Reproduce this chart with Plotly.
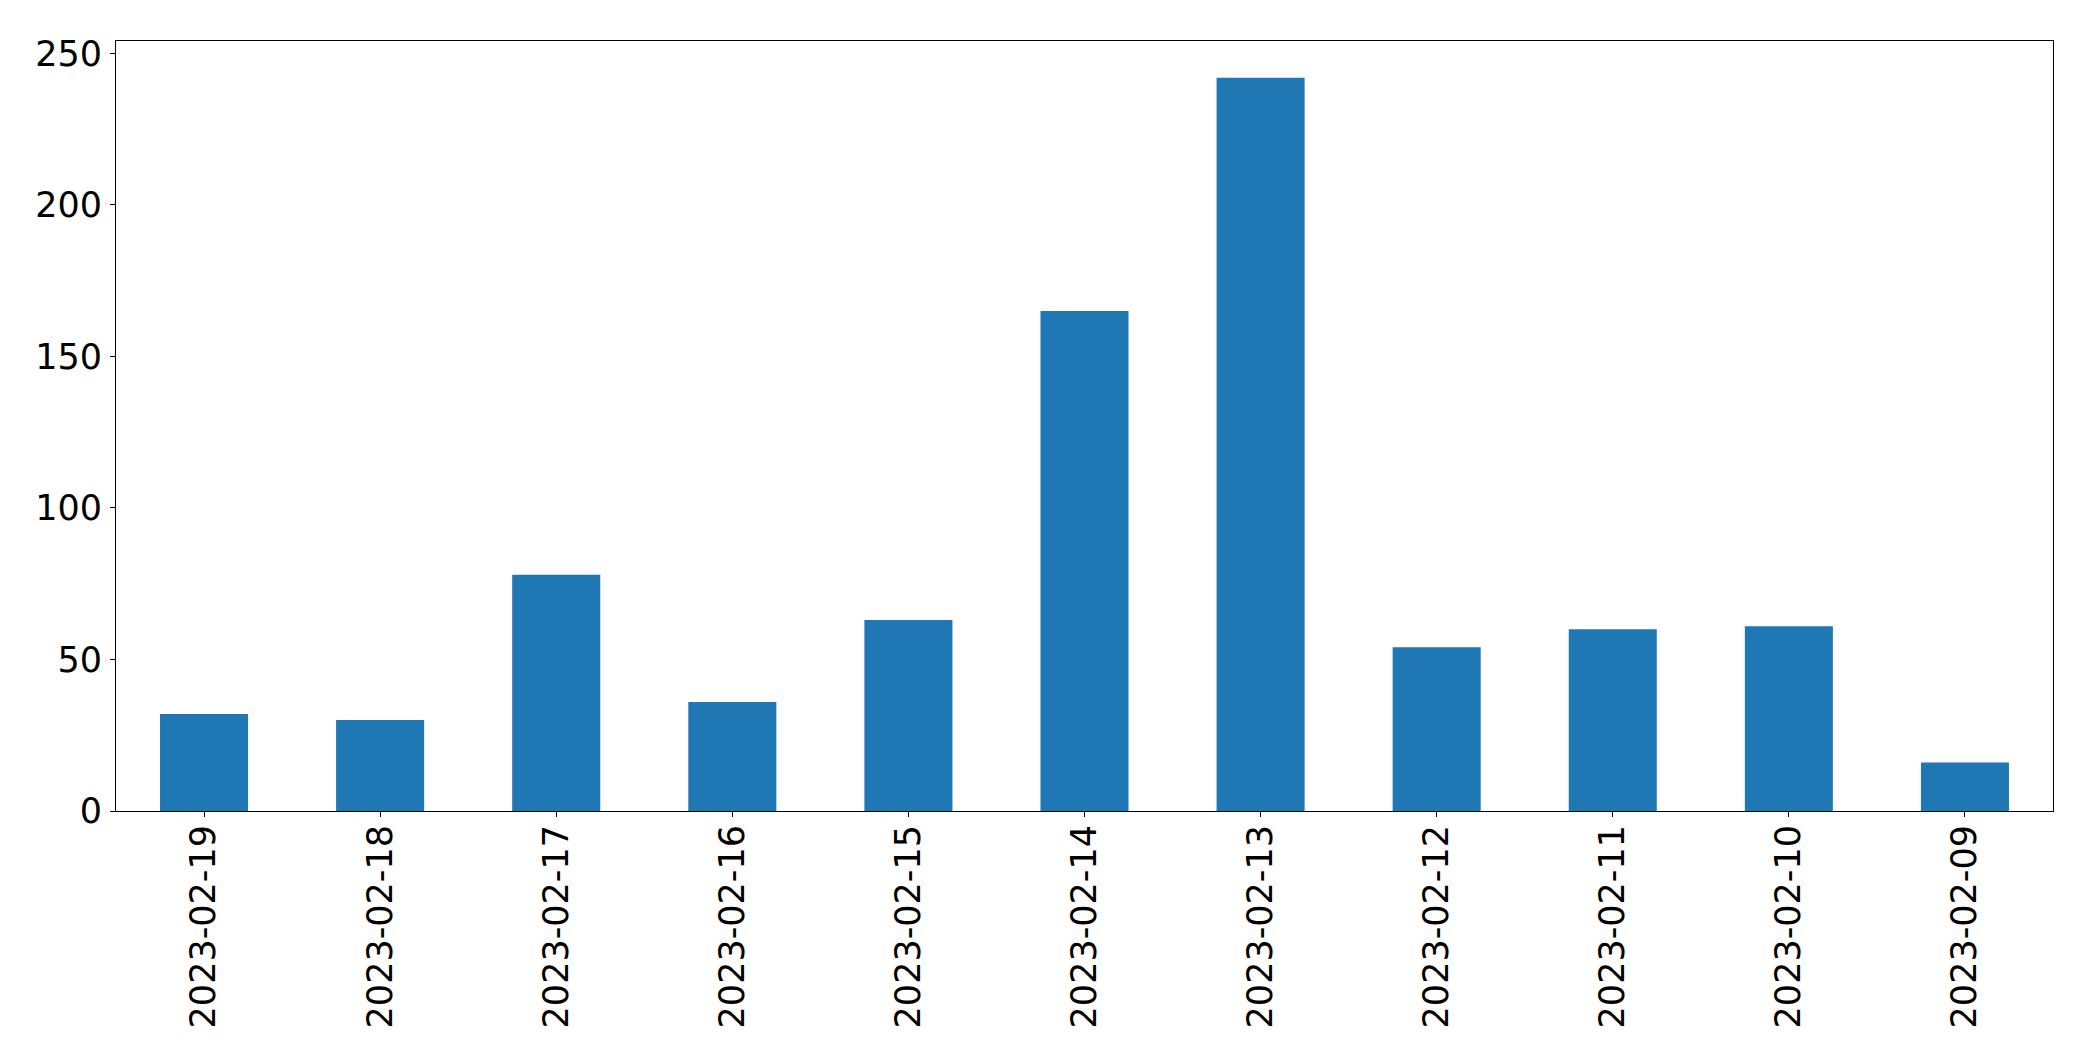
import plotly.graph_objects as go

dates = ["2023-02-19", "2023-02-18", "2023-02-17", "2023-02-16", "2023-02-15",
         "2023-02-14", "2023-02-13", "2023-02-12", "2023-02-11", "2023-02-10", "2023-02-09"]
counts = [32, 30, 78, 36, 63, 165, 242, 54, 60, 61, 16]
y_ticks = [0, 50, 100, 150, 200, 250]

fig = go.Figure(go.Bar(x=dates, y=counts, width=0.5, marker_color="#1f77b4",
                       marker_line_width=0))

font = dict(family="DejaVu Sans", size=35, color="black")
fig.update_layout(
    width=2077, height=1047,
    margin=dict(l=108, r=32, t=33, b=244, autoexpand=False),
    plot_bgcolor="white", paper_bgcolor="white",
    showlegend=False,
    font=font,
)
fig.update_xaxes(type="category", range=[-0.5, 10.5], tickangle=-90,
                 showline=True, linecolor="black", linewidth=1, mirror=True,
                 ticks="outside", ticklen=5, tickcolor="black", tickwidth=1,
                 showgrid=False, zeroline=False, tickfont=font, ticklabelstandoff=-6)
fig.update_yaxes(range=[0, 254.1], tickvals=y_ticks,
                 showline=True, linecolor="black", linewidth=1, mirror=True,
                 ticks="outside", ticklen=5, tickcolor="black", tickwidth=1,
                 showgrid=False, zeroline=False, tickfont=font, ticklabelstandoff=1)
fig.write_html("out.html")
